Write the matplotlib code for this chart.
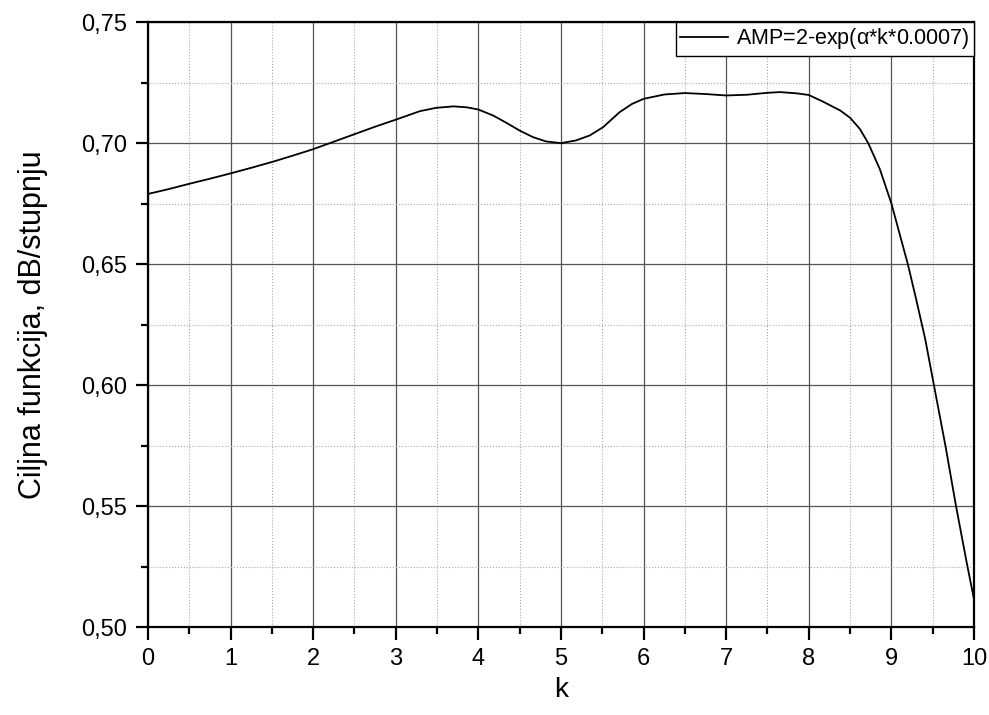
import numpy as np
import matplotlib
matplotlib.use("Agg")
import matplotlib.pyplot as plt
from matplotlib.ticker import MultipleLocator, FuncFormatter

# values
k = [0, 0.25, 0.5, 0.75, 1, 1.25, 1.5, 1.75, 2, 2.25, 2.5, 2.75, 3, 3.15,
     3.29, 3.49, 3.70, 3.86, 4.0, 4.18, 4.34, 4.5, 4.66, 4.82, 5.0, 5.18, 5.35,
     5.51, 5.71, 5.86, 6.0, 6.25, 6.5, 6.75, 7.0, 7.25, 7.5, 7.65, 7.85, 8.0,
     8.17, 8.38, 8.5, 8.62, 8.72, 8.86, 9.0, 9.1, 9.2, 9.3, 9.41, 9.515,
     9.657, 9.78, 9.91, 10.0]
amp = [0.679, 0.681, 0.6832, 0.6853, 0.6875, 0.6898, 0.6922, 0.6948, 0.6975,
       0.7006, 0.7037, 0.7068, 0.7097, 0.7115, 0.7132, 0.7146, 0.7152, 0.7148,
       0.7139, 0.7114, 0.7084, 0.7052, 0.7025, 0.7007, 0.7000, 0.7011, 0.7032,
       0.7066, 0.7128, 0.7162, 0.7183, 0.7201, 0.7207, 0.7203, 0.7197, 0.7200,
       0.7208, 0.7211, 0.7206, 0.7199, 0.7172, 0.7135, 0.7105, 0.7058, 0.7000,
       0.6893, 0.6751, 0.6625, 0.6499, 0.6355, 0.6190, 0.6000, 0.5745, 0.5505,
       0.527, 0.5115]
series_label = "AMP=2-exp($\\alpha$*k*0.0007)"

plt.rcParams["font.family"] = ["Liberation Sans", "DejaVu Sans"]
plt.rcParams["mathtext.fontset"] = "custom"
plt.rcParams["mathtext.rm"] = "Liberation Sans"
plt.rcParams["mathtext.it"] = "Liberation Sans"

fig = plt.figure(figsize=(9.89, 7.15), dpi=100)
ax = fig.add_axes([0.1496, 0.123, 0.8352, 0.846])

ax.plot(k, amp, color="black", linewidth=1.3, label=series_label, zorder=3)

ax.set_xlim(0, 10)
ax.set_ylim(0.50, 0.75)
ax.xaxis.set_major_locator(MultipleLocator(1))
ax.xaxis.set_minor_locator(MultipleLocator(0.5))
ax.yaxis.set_major_locator(MultipleLocator(0.05))
ax.yaxis.set_minor_locator(MultipleLocator(0.025))
ax.yaxis.set_major_formatter(FuncFormatter(lambda v, p: ("%.2f" % v).replace(".", ",")))

ax.grid(which="major", color="#555555", linewidth=0.9, linestyle="-")
ax.grid(which="minor", color="#aaaaaa", linewidth=0.8, linestyle=":")
ax.set_axisbelow(True)

for s in ax.spines.values():
    s.set_linewidth(1.6)
ax.tick_params(which="major", direction="out", length=9, width=1.6,
               labelsize=17, pad=6, top=False, right=False)
ax.tick_params(which="minor", direction="out", length=5, width=1.6,
               top=False, right=False)

ax.set_xlabel("k", fontsize=20, labelpad=5)
ax.set_ylabel("Ciljna funkcija, dB/stupnju", fontsize=22, labelpad=24)

leg = ax.legend(loc="upper right", borderaxespad=0, fancybox=False,
                edgecolor="black", framealpha=1, fontsize=15.5,
                handlelength=2.2, borderpad=0.2, handletextpad=0.4)
leg.get_frame().set_linewidth(1.0)

fig.savefig("out.png", dpi=100)
